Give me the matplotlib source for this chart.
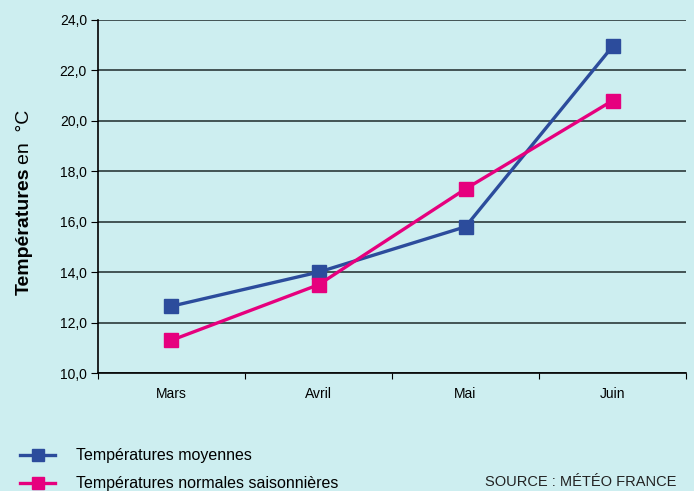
import matplotlib
matplotlib.use('Agg')
import matplotlib.pyplot as plt
from matplotlib.ticker import FuncFormatter

# Données (°C)
mois = ['Mars', 'Avril', 'Mai', 'Juin']
moyennes = [12.65, 14.0, 15.8, 22.95]
normales = [11.3, 13.5, 17.3, 20.8]

bg = '#cdeef0'
bleu = '#2c4c9c'
rose = '#e6007e'

plt.rcParams['font.family'] = ['Liberation Sans', 'DejaVu Sans']

fig = plt.figure(figsize=(6.94, 4.91), dpi=100, facecolor=bg)
ax = fig.add_axes([0.1412, 0.2403, 0.8473, 0.719])
ax.set_facecolor(bg)

x = [i + 0.5 for i in range(len(mois))]
ax.plot(x, moyennes, color=bleu, lw=2.4, marker='s', ms=10, label='Températures moyennes')
ax.plot(x, normales, color=rose, lw=2.4, marker='s', ms=10, label='Températures normales saisonnières')

ax.set_xlim(0, 4)
ax.set_ylim(10, 24)
ax.set_yticks(range(10, 25, 2))
ax.yaxis.set_major_formatter(FuncFormatter(lambda v, p: f'{v:.1f}'.replace('.', ',')))
ax.grid(axis='y', color='#1e2a2a', lw=1.1)
ax.set_axisbelow(True)

# ticks aux limites des catégories, étiquettes au centre
ax.set_xticks(range(5))
ax.set_xticklabels([])
ax.set_xticks(x, minor=True)
ax.set_xticklabels(mois, minor=True, fontsize=10)
ax.tick_params(axis='x', which='minor', length=0, pad=10)
ax.tick_params(axis='x', which='major', length=4, direction='out')
ax.tick_params(axis='y', length=5, labelsize=10, pad=3)

for s in ['top', 'right']:
    ax.spines[s].set_visible(False)
ax.spines['left'].set_color('black')
ax.spines['bottom'].set_color('black')
ax.spines['left'].set_linewidth(1.2)
ax.spines['bottom'].set_linewidth(1.2)

# titre de l'axe y : partie grasse + partie normale, sur la même ligne de base
H = 491.0
xb = 29 / 694
t1 = fig.text(xb, 1 - 295 / H, 'Températures', rotation=90, fontsize=14,
              fontweight='bold', ha='left', va='baseline', rotation_mode='anchor')
fig.canvas.draw()
bb = t1.get_window_extent(fig.canvas.get_renderer())
fig.text(xb, (bb.y1 + 4) / H, 'en  °C', rotation=90, fontsize=14,
         ha='left', va='baseline', rotation_mode='anchor')

leg = fig.legend(loc='upper left', bbox_to_anchor=(0.02, 1 - 442 / H), frameon=False,
                 fontsize=11.5, handlelength=2.2, handletextpad=1.3, labelspacing=0.8,
                 borderaxespad=0)
for h in leg.legend_handles:
    h.set_markersize(8)

fig.text(0.974, 1 - 482 / H, 'SOURCE : MÉTÉO FRANCE', ha='right', va='center',
         fontsize=10.5, color='#222222',
         family=['Liberation Sans Narrow', 'Liberation Sans'])

fig.savefig('out.png', dpi=100, facecolor=bg)
